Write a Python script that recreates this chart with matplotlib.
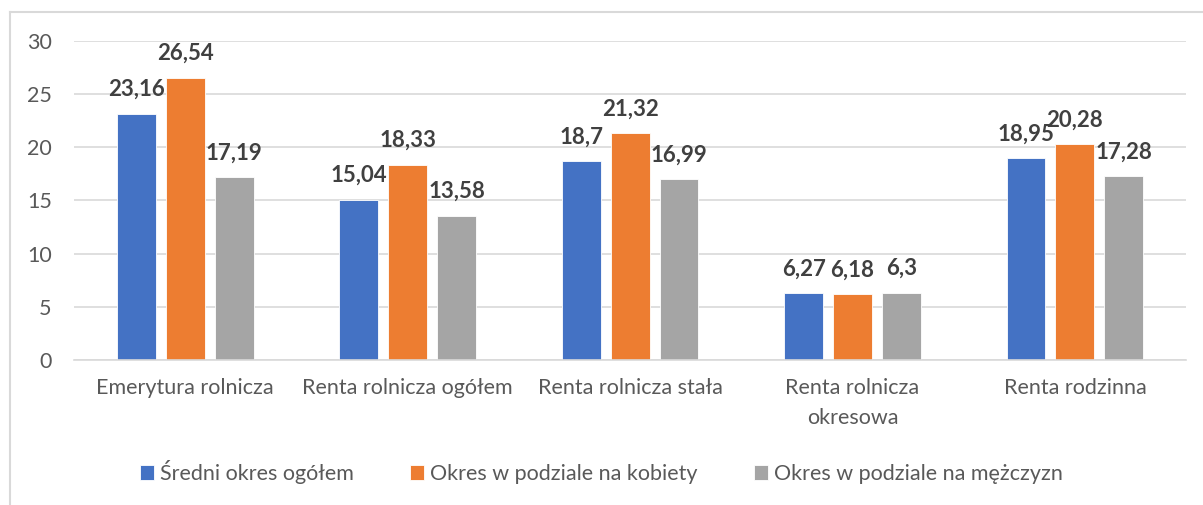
import matplotlib.pyplot as plt
import numpy as np
from matplotlib.lines import Line2D

plt.rcParams['font.family'] = ['Lato', 'DejaVu Sans']

kategorie = ['Emerytura rolnicza', 'Renta rolnicza ogółem', 'Renta rolnicza stała',
             'Renta rolnicza\nokresowa', 'Renta rodzinna']
ogolem = [23.16, 15.04, 18.70, 6.27, 18.95]
kobiety = [26.54, 18.33, 21.32, 6.18, 20.28]
mezczyzni = [17.19, 13.58, 16.99, 6.30, 17.28]
etykiety = [['23,16', '15,04', '18,7', '6,27', '18,95'],
            ['26,54', '18,33', '21,32', '6,18', '20,28'],
            ['17,19', '13,58', '16,99', '6,3', '17,28']]
serie = ['Średni okres ogółem', 'Okres w podziale na kobiety', 'Okres w podziale na mężczyzn']
kolory = ['#4472C4', '#ED7D31', '#A5A5A5']

fig = plt.figure(figsize=(12.03, 5.05), dpi=100)
ax = fig.add_axes([0.0615, 0.287, 0.9245, 0.632])

x = np.arange(len(kategorie))
w = 0.175
step = 0.22
for i, (dane, kol) in enumerate(zip([ogolem, kobiety, mezczyzni], kolory)):
    bars = ax.bar(x + (i - 1) * step, dane, w, color=kol, label=serie[i],
                  edgecolor='white', linewidth=0.6, zorder=2)
    ax.bar_label(bars, labels=etykiety[i], padding=10, fontsize=16,
                 fontweight='bold', color='#404040')

ax.set_xlim(-0.5, len(kategorie) - 0.5)
ax.set_ylim(0, 30)
ax.set_yticks(range(0, 31, 5))
ax.yaxis.grid(True, color='#D9D9D9', linewidth=1.2, zorder=0)
ax.set_axisbelow(True)
for s in ['top', 'right', 'left']:
    ax.spines[s].set_visible(False)
ax.spines['bottom'].set_color('#D9D9D9')
ax.spines['bottom'].set_linewidth(1.2)
ax.tick_params(length=0, labelsize=15.5, colors='#595959')
ax.tick_params(axis='x', pad=13)
ax.tick_params(axis='y', pad=16)
ax.set_xticks(x)
ax.set_xticklabels(kategorie, linespacing=1.6)

fig.legend(loc='center', bbox_to_anchor=(0.5, 0.065), ncol=3, frameon=False,
           fontsize=15.5, handlelength=0.65, handleheight=0.65, handletextpad=0.3,
           columnspacing=2.6, labelcolor='#595959')

# ramka wykresu
fig.add_artist(Line2D([10 / 1203, 1], [1 - 12 / 505, 1 - 12 / 505], color='#D9D9D9', lw=1.5))
fig.add_artist(Line2D([10 / 1203, 10 / 1203], [0, 1 - 12 / 505], color='#D9D9D9', lw=1.5))

fig.savefig('out.png', dpi=100)
